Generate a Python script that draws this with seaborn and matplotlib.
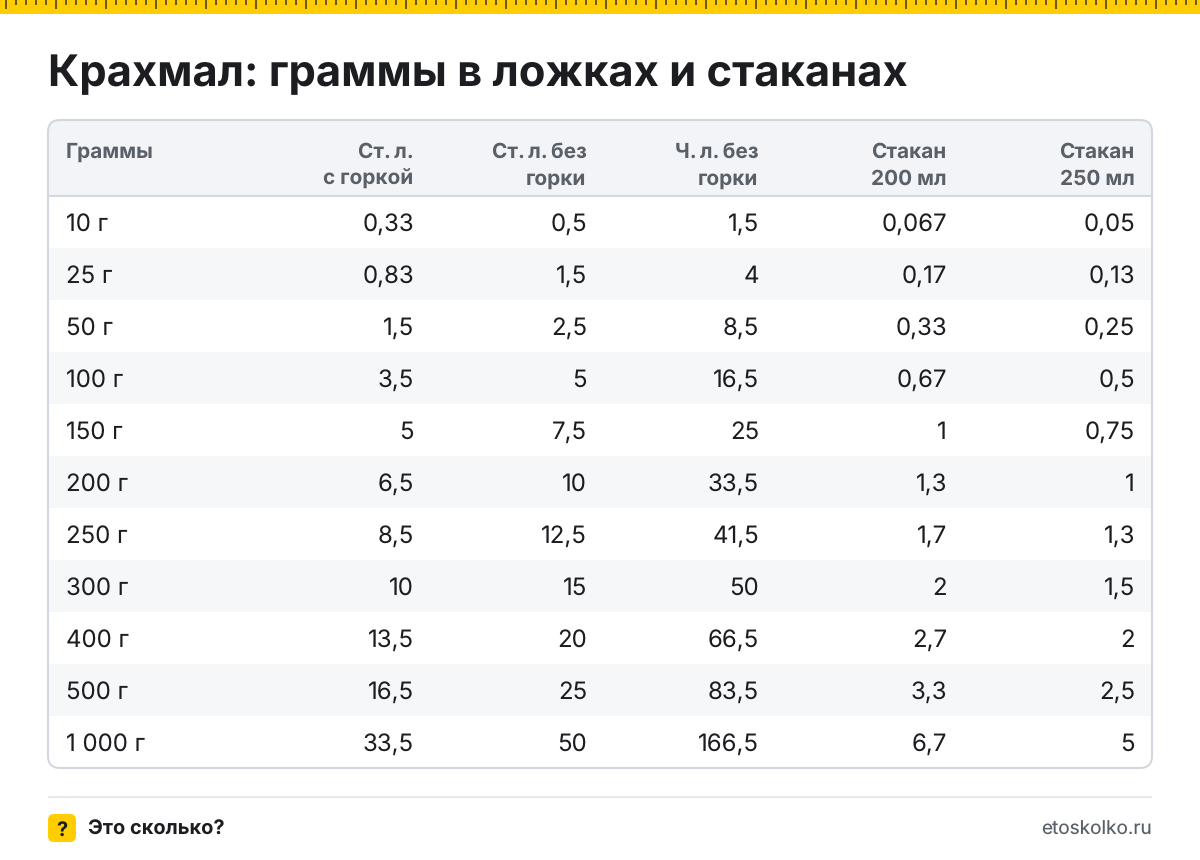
import numpy as np
import matplotlib
matplotlib.use("Agg")
import matplotlib.pyplot as plt
from matplotlib.colors import ListedColormap
from matplotlib.patches import FancyBboxPatch, Rectangle
import seaborn as sns

sns.set_theme(style="white")
plt.rcParams['font.family'] = ['Inter', 'DejaVu Sans']
plt.rcParams['text.hinting'] = 'no_hinting'
plt.rcParams['text.hinting_factor'] = 1

TITLE = "Крахмал: граммы в ложках и стаканах"
headers = ["Граммы", "Ст.\u2009л.\nс горкой", "Ст.\u2009л.\u2009без\nгорки", "Ч.\u2009л.\u2009без\nгорки", "Стакан\n200 мл", "Стакан\n250 мл"]
grams = ["10 г", "25 г", "50 г", "100 г", "150 г", "200 г", "250 г", "300 г", "400 г", "500 г", "1 000 г"]
tbsp_heap = ["0,33", "0,83", "1,5", "3,5", "5", "6,5", "8,5", "10", "13,5", "16,5", "33,5"]
tbsp_flat = ["0,5", "1,5", "2,5", "5", "7,5", "10", "12,5", "15", "20", "25", "50"]
tsp_flat = ["1,5", "4", "8,5", "16,5", "25", "33,5", "41,5", "50", "66,5", "83,5", "166,5"]
glass200 = ["0,067", "0,17", "0,33", "0,67", "1", "1,3", "1,7", "2", "2,7", "3,3", "6,7"]
glass250 = ["0,05", "0,13", "0,25", "0,5", "0,75", "1", "1,3", "1,5", "2", "2,5", "5"]
columns = [tbsp_heap, tbsp_flat, tsp_flat, glass200, glass250]
col_right = [414, 587, 759, 947, 1135]

INK = "#1c1d20"; GREY = "#596068"; BORDER = "#d3d8e0"; HEAD = "#f3f4f7"; STRIPE = "#f6f7f9"; YEL = "#ffcd00"
px = 0.72

fig = plt.figure(figsize=(12, 8.6), dpi=100, facecolor="white")
W, H = 1200, 860

ov = fig.add_axes([0, 0, 1, 1], zorder=1)
ov.set_xlim(0, W); ov.set_ylim(H, 0); ov.axis("off"); ov.patch.set_alpha(0)

# body stripes via seaborn heatmap
hm = fig.add_axes([49/W, 1-768/H, 1102/W, 572/H], zorder=0)
stripes = np.array([[i % 2] for i in range(len(grams))])
sns.heatmap(stripes, ax=hm, cmap=ListedColormap(["white", STRIPE]), cbar=False,
            xticklabels=False, yticklabels=False, vmin=0, vmax=1)

# ruler
ov.add_patch(Rectangle((0, 0), W, 14, fc=YEL, ec="none"))
for x in range(6, W, 10):
    long = (x - 6) % 50 == 0
    ov.plot([x, x], [0, 9 if long else 5], color="#6b5a10", lw=1.44, solid_capstyle="butt")

ov.text(48, 86, TITLE, fontsize=43.5*px, fontweight="bold", color=INK, va="baseline", ha="left")

# header
ov.add_patch(FancyBboxPatch((48, 120), 1104, 60, boxstyle="round,pad=0,rounding_size=12",
                            fc=HEAD, ec="none"))
ov.add_patch(Rectangle((48, 150), 1104, 46, fc=HEAD, ec="none"))
ov.plot([48, 1152], [196, 196], color=BORDER, lw=1.5, solid_capstyle="butt")
ov.add_patch(FancyBboxPatch((48, 120), 1104, 648, boxstyle="round,pad=0,rounding_size=12",
                            fc="none", ec=BORDER, lw=1.5, zorder=3))

ov.text(66, 158, headers[0], fontsize=20.8*px, fontweight="bold", color=GREY, va="baseline", ha="left")
for h, xr in zip(headers[1:], col_right):
    l1, l2 = h.split("\n")
    ov.text(xr-0.5, 158, l1, fontsize=20.8*px, fontweight="bold", color=GREY, va="baseline", ha="right")
    ov.text(xr-0.5, 184.5, l2, fontsize=20.8*px, fontweight="bold", color=GREY, va="baseline", ha="right")

for i, g in enumerate(grams):
    y = 231 + 52*i
    ov.text(66, y, g, fontsize=24*px, color=INK, va="baseline", ha="left")
    for col, xr in zip(columns, col_right):
        ov.text(xr, y, col[i], fontsize=24*px, color=INK, va="baseline", ha="right")

# footer
ov.plot([48, 1152], [796.5, 796.5], color="#e6e9ee", lw=1.5, solid_capstyle="butt")
ov.add_patch(FancyBboxPatch((48, 814), 28, 28, boxstyle="round,pad=0,rounding_size=6", fc=YEL, ec="none"))
ov.text(62, 835.5, "?", fontsize=20*px, fontweight="bold", color=INK, va="baseline", ha="center")
ov.text(88, 835, "Это сколько?", fontsize=20*px, fontweight="bold", color=INK, va="baseline", ha="left")
ov.text(1152, 835, "etoskolko.ru", fontsize=19*px, color=GREY, va="baseline", ha="right")

fig.savefig("out.png", dpi=100, facecolor="white")
